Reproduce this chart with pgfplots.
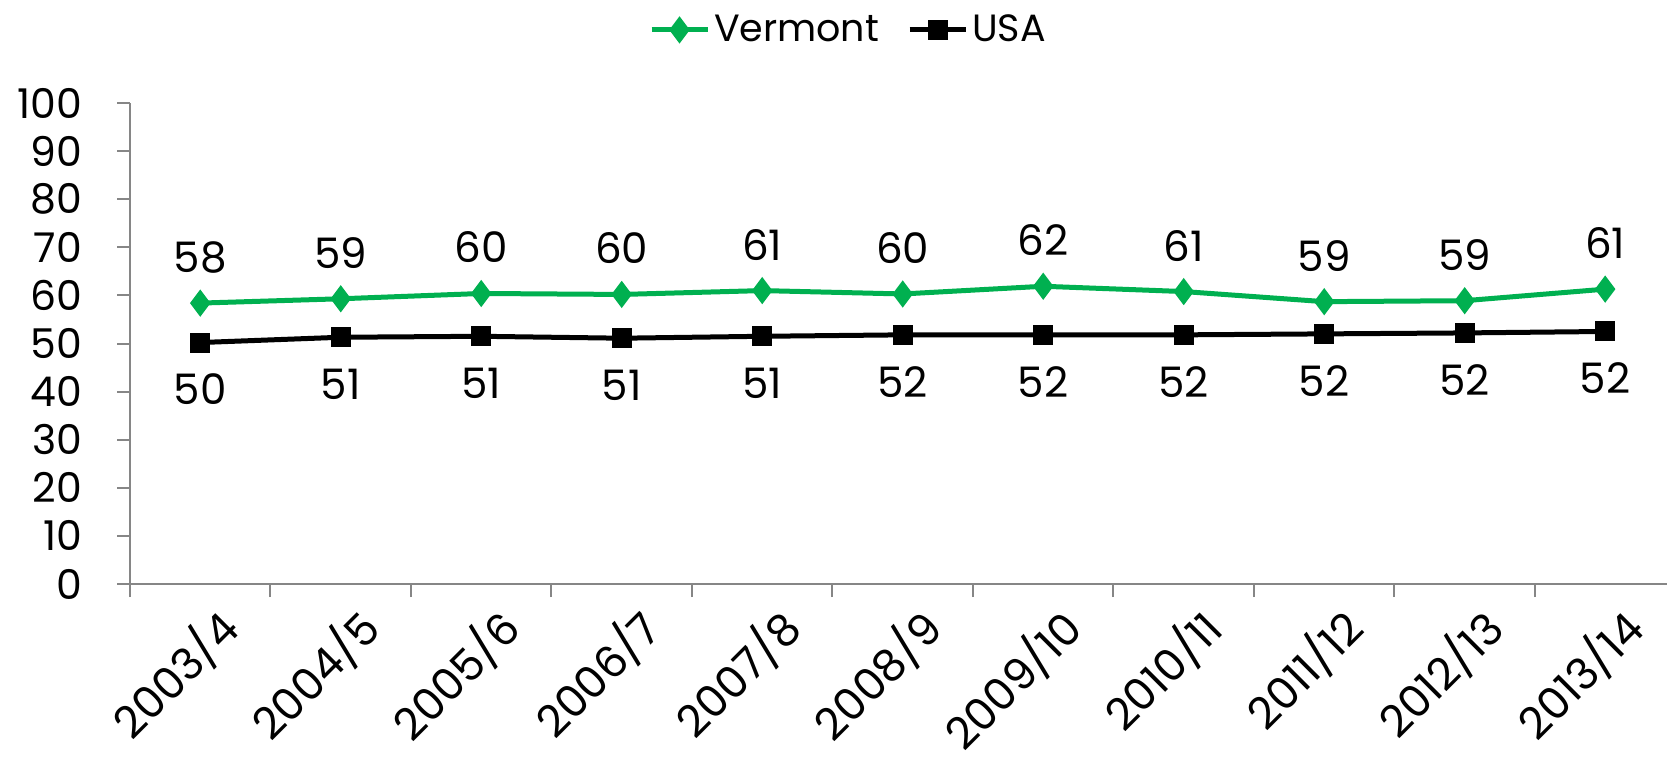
\documentclass[border=0pt]{standalone}
\usepackage{pgfplots}
\pgfplotsset{compat=1.18}
\usepackage{pgfplotstable}
\usepackage{fontspec}
\setmainfont{Poppins}
\definecolor{vtgreen}{HTML}{00B050}
\definecolor{axisgray}{HTML}{868686}

\pgfplotstableread{
x y lab
0 58.4 58
1 59.3 59
2 60.4 60
3 60.2 60
4 61.0 61
5 60.3 60
6 61.9 62
7 60.8 61
8 58.7 59
9 58.9 59
10 61.3 61
}\vermont

\pgfplotstableread{
x y lab
0 50.2 50
1 51.3 51
2 51.5 51
3 51.1 51
4 51.5 51
5 51.8 52
6 51.8 52
7 51.8 52
8 52.0 52
9 52.2 52
10 52.5 52
}\usa

\begin{document}
\begin{tikzpicture}
\path[use as bounding box] (0,0) rectangle (833.5pt,384pt);
\begin{axis}[
  at={(65pt,92pt)}, anchor=south west,
  scale only axis,
  width=768.5pt, height=240.5pt,
  xmin=-0.5, xmax=10.44,
  ymin=0, ymax=100,
  axis lines*=left,
  axis line style={draw=axisgray, line width=1pt},
  ytick={0,10,...,100},
  tick align=outside,
  major tick length=6.5pt,
  ytick style={draw=axisgray, line width=1pt},
  xtick={0,...,10},
  xticklabels={2003/4,2004/5,2005/6,2006/7,2007/8,2008/9,2009/10,2010/11,2011/12,2012/13,2013/14},
  xtick style={draw=none},
  extra x ticks={-0.5,0.5,...,9.5},
  extra x tick labels={},
  extra x tick style={xtick style={draw=axisgray, line width=1pt}},
  /pgf/number format/assume math mode=true,
  yticklabel style={font=\fontsize{20.5}{22}\selectfont, xshift=-14pt},
  xticklabel style={font=\fontsize{22}{24}\selectfont, rotate=45, anchor=north east, xshift=6pt, yshift=-3pt},
  legend style={at={(axis description cs:0.468,1.152)}, anchor=center, draw=none, fill=none,
    legend columns=2, font=\fontsize{19}{21}\selectfont,
    /tikz/every even column/.append style={column sep=12pt}},
  legend image code/.code={\draw[#1, mark repeat=2, mark phase=2] plot coordinates {(0pt,0pt) (14pt,0pt) (28pt,0pt)};},
  clip=false,
]
\addplot[vtgreen, line width=2.5pt, mark=diamond*, mark size=4.75pt,
  mark options={fill=vtgreen, draw=none},
  nodes near coords, point meta=explicit symbolic,
  every node near coord/.append style={font=\fontsize{21}{23}\selectfont, text=black, anchor=center, yshift=23pt}]
  table[x=x, y=y, meta=lab] {\vermont};
\addlegendentry{Vermont}
\addplot[black, line width=2.5pt, mark=square*, mark size=3.75pt,
  mark options={fill=black, draw=none},
  nodes near coords, point meta=explicit symbolic,
  every node near coord/.append style={font=\fontsize{21}{23}\selectfont, text=black, anchor=center, yshift=-23.5pt}]
  table[x=x, y=y, meta=lab] {\usa};
\addlegendentry{USA}
\end{axis}
\end{tikzpicture}
\end{document}
